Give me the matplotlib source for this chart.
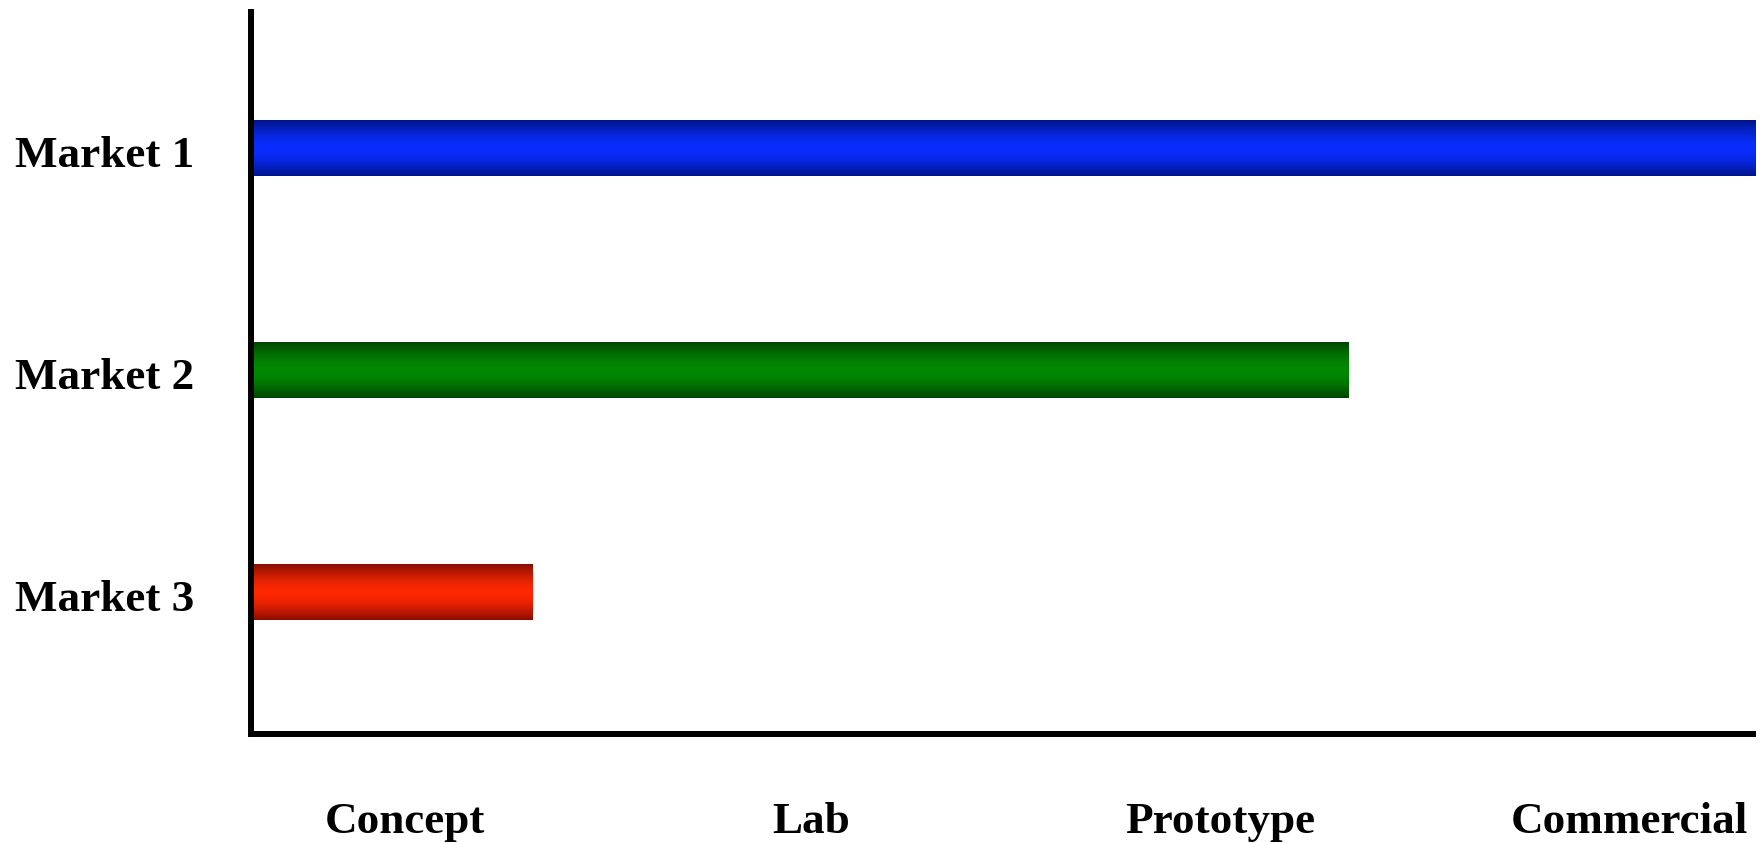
import numpy as np
import matplotlib
matplotlib.use("Agg")
import matplotlib.pyplot as plt
import matplotlib.transforms as mtransforms
from matplotlib.colors import LinearSegmentedColormap

# Readiness of each market along the development pipeline (0-100 scale)
markets = ["Market 1", "Market 2", "Market 3"]
progress = [100.0, 72.9, 18.7]
stages = ["Concept", "Lab", "Prototype", "Commercial"]
stage_positions = [10.2, 37.2, 64.4, 91.6]

# Edge / centre colours for the tube-like shading of each bar
edge_colors = ["#001488", "#004400", "#880c00"]
center_colors = ["#0a2dff", "#008a00", "#ff2800"]

plt.rcParams["font.family"] = ["Liberation Serif", "DejaVu Serif"]
plt.rcParams["font.weight"] = "bold"

fig = plt.figure(figsize=(17.6, 8.44), dpi=100)
ax = fig.add_axes([0.1426, 0.1303, 0.9977 - 0.1426, 0.9858 - 0.1303])

ypos = np.arange(len(markets))
bars = ax.barh(ypos, progress, height=0.25, color="none", edgecolor="none")

# Vertical gradient fill: dark at the edges, bright in the middle
grad = np.abs(np.linspace(-1, 1, 256))[:, None]
for bar, c_edge, c_mid in zip(bars, edge_colors, center_colors):
    cmap = LinearSegmentedColormap.from_list("tube", [c_mid, c_edge])
    x0, y0 = bar.get_x(), bar.get_y()
    w, h = bar.get_width(), bar.get_height()
    ax.imshow(grad ** 1.6, cmap=cmap, vmin=0, vmax=1, aspect="auto",
              extent=(x0, x0 + w, y0 + h, y0), interpolation="bilinear",
              zorder=2)

ax.set_xlim(0, 100)
ax.set_ylim(2.637, -0.615)

ax.set_yticks(ypos)
ax.set_yticklabels(markets, fontsize=32.5, fontweight="bold")
ax.set_xticks(stage_positions)
ax.set_xticklabels(stages, fontsize=32.5, fontweight="bold")
ax.tick_params(axis="y", length=0, pad=41)
ax.tick_params(axis="x", length=0, pad=49)

# nudge the market names slightly downward
shift = mtransforms.ScaledTranslation(0, -1.8 / 72, fig.dpi_scale_trans)
for lbl in ax.get_yticklabels():
    lbl.set_transform(lbl.get_transform() + shift)

for side in ("top", "right"):
    ax.spines[side].set_visible(False)
for side in ("left", "bottom"):
    ax.spines[side].set_linewidth(4.3)
    ax.spines[side].set_color("black")
ax.spines["left"].set_capstyle("projecting")
ax.spines["bottom"].set_capstyle("butt")

fig.savefig("out.png", dpi=100, facecolor="white")
